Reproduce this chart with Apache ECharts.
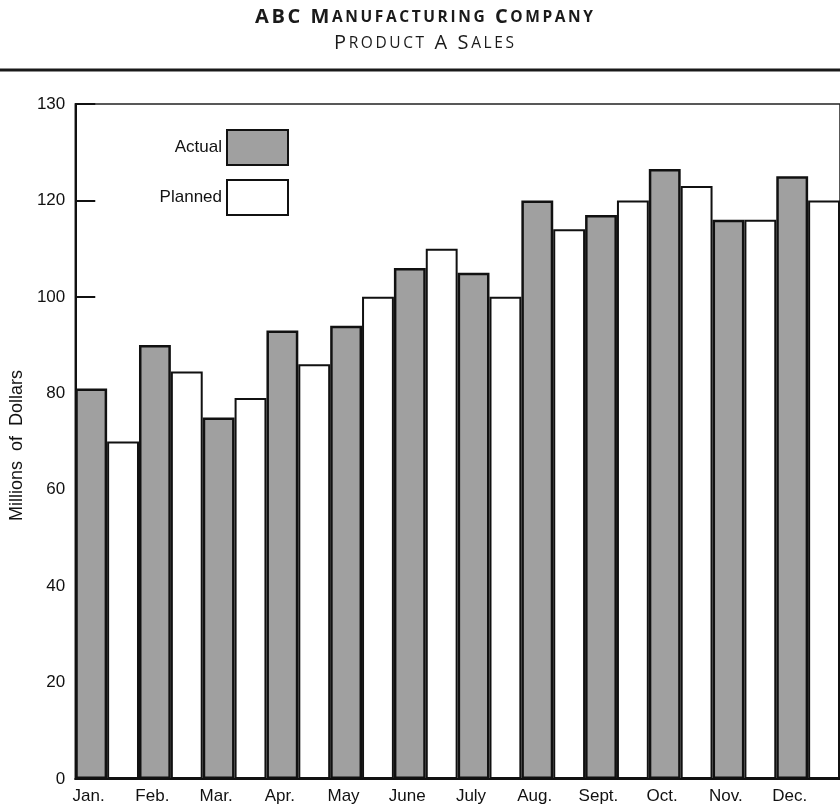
<!DOCTYPE html>
<html>
<head>
<meta charset="utf-8">
<script src="https://cdn.jsdelivr.net/npm/echarts@6/dist/echarts.min.js"></script>
<style>
  html, body { margin: 0; padding: 0; background: #ffffff; }
  #chart { width: 840px; height: 810px; }
</style>
</head>
<body>
<div id="chart"></div>
<script>
// Monthly sales of Product A, millions of dollars
const months = ['Jan.', 'Feb.', 'Mar.', 'Apr.', 'May', 'June', 'July', 'Aug.', 'Sept.', 'Oct.', 'Nov.', 'Dec.'];
const actualSales = [81, 90, 75, 93, 94, 106, 105, 120, 117, 126.5, 116, 125];
const plannedSales = [70, 84.5, 79, 86, 100, 110, 100, 114, 120, 123, 116, 120];

// Value-axis ticks and the text printed beside each one
const yTickValues = [0, 20, 40, 60, 80, 100, 120, 140];
const yTickLabels = ['0', '20', '40', '60', '80', '100', '120', '130'];

const headingLines = ['ABC Manufacturing Company', 'Product A Sales'];

const labelFont = '"Liberation Sans", Arial, Helvetica, sans-serif';
const titleFont = '"Open Sans", Lato, sans-serif';

// Letter-spaced small capitals: capitals stay large, lower-case letters are
// set as smaller capitals; each glyph is its own rich token so it can be tracked.
function smallCapsRich(str) {
  let out = '';
  for (const ch of str) {
    if (ch === ' ') out += '{sp| }';
    else if (ch === ch.toUpperCase()) out += '{b|' + ch + '}';
    else out += '{s|' + ch.toUpperCase() + '}';
  }
  return out;
}

function headingStyle(text, weight, big, small, track) {
  const base = {
    fontFamily: titleFont,
    fontWeight: weight,
    fill: '#1a1a1a',
    lineHeight: 22,
    verticalAlign: 'bottom'
  };
  return {
    text: smallCapsRich(text),
    align: 'center',
    verticalAlign: 'top',
    rich: {
      b: Object.assign({}, base, { fontSize: big, padding: [0, track, 0, track] }),
      s: Object.assign({}, base, { fontSize: small, padding: [0, track, 1, track] }),
      sp: Object.assign({}, base, { fontSize: big, padding: [0, track, 0, track] })
    }
  };
}

const chart = echarts.init(document.getElementById('chart'), null, { renderer: 'canvas' });

chart.setOption({
  backgroundColor: '#ffffff',
  animation: false,
  graphic: [
    {
      type: 'text',
      x: 424,
      y: 5,
      style: headingStyle(headingLines[0], 'bold', 20, 15.5, 1.3)
    },
    {
      type: 'text',
      x: 424,
      y: 31,
      style: headingStyle(headingLines[1], 'normal', 20, 15.5, 1.3)
    },
    {
      // rule under the heading
      type: 'line',
      shape: { x1: 0, y1: 70, x2: 840, y2: 70 },
      style: { stroke: '#1a1a1a', lineWidth: 3 }
    }
  ],
  legend: {
    data: ['Actual', 'Planned'],
    orient: 'vertical',
    align: 'right',
    right: 551,
    top: 129,
    padding: 0,
    itemWidth: 61,
    itemHeight: 35,
    itemGap: 13,
    icon: 'rect',
    textStyle: { fontFamily: labelFont, fontSize: 17, color: '#111111' }
  },
  grid: {
    left: 73,
    top: 104,
    width: 769,
    height: 675,
    show: true,
    borderColor: '#222222',
    borderWidth: 1.5,
    backgroundColor: 'transparent'
  },
  xAxis: {
    type: 'category',
    data: months,
    axisLine: { show: true, lineStyle: { color: '#111111', width: 2 } },
    axisTick: { show: false },
    axisLabel: {
      fontFamily: labelFont,
      fontSize: 17,
      color: '#111111',
      margin: 9,
      padding: [0, 37, 0, 0]
    },
    splitLine: { show: false }
  },
  yAxis: {
    type: 'value',
    min: 0,
    max: 140,
    interval: 20,
    name: 'Millions  of  Dollars',
    nameLocation: 'middle',
    nameGap: 48,
    nameRotate: 90,
    nameTextStyle: { fontFamily: labelFont, fontSize: 18, color: '#111111', padding: [0, 8, 0, 0] },
    axisLine: { show: true, lineStyle: { color: '#111111', width: 2 } },
    axisTick: { show: true, inside: true, length: 20, lineStyle: { color: '#111111', width: 2 } },
    axisLabel: {
      fontFamily: labelFont,
      fontSize: 17,
      color: '#111111',
      margin: 10,
      formatter: function (v) {
        const i = yTickValues.indexOf(v);
        return i >= 0 ? yTickLabels[i] : '';
      }
    },
    splitLine: { show: false }
  },
  series: [
    {
      name: 'Actual',
      type: 'bar',
      data: actualSales,
      barGap: '0%',
      barCategoryGap: '0%',
      itemStyle: { color: '#a0a0a0', borderColor: '#111111', borderWidth: 2.5 },
      z: 3
    },
    {
      name: 'Planned',
      type: 'bar',
      data: plannedSales,
      barGap: '0%',
      barCategoryGap: '0%',
      itemStyle: { color: '#ffffff', borderColor: '#111111', borderWidth: 2 },
      z: 2
    }
  ]
});
</script>
</body>
</html>
